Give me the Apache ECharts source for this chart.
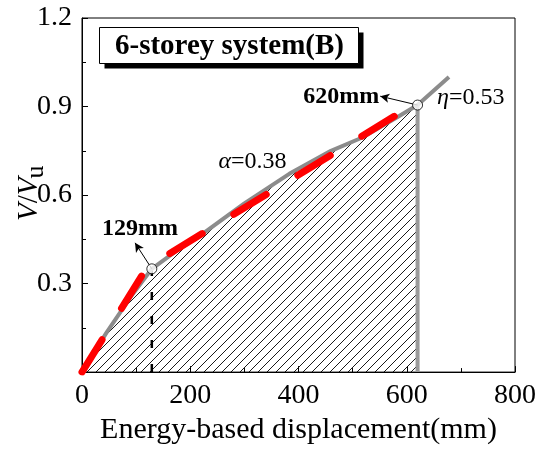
<!DOCTYPE html>
<html>
<head>
<meta charset="utf-8">
<script src="https://cdn.jsdelivr.net/npm/echarts@6/dist/echarts.min.js"></script>
<style>
  html, body { margin: 0; padding: 0; background: #ffffff; }
  #chart { width: 539px; height: 450px; }
</style>
</head>
<body>
<div id="chart"></div>
<script>
// Capacity curve of the 6-storey system (B): base shear ratio V/Vu against energy-based displacement (mm)
const displacement = [0, 45, 90, 129, 175, 217, 300, 383, 460, 518, 580, 620, 678];
const shearRatio   = [0, 0.133, 0.255, 0.35, 0.412, 0.461, 0.572, 0.672, 0.75, 0.795, 0.861, 0.905, 1.0];

// Idealised bilinear curve (red dashed)
const bilinearDisp  = [0, 120, 620];
const bilinearRatio = [0, 0.355, 0.915];

// Characteristic points: yield and ultimate displacement
const yieldPoint    = [129, 0.35];
const ultimatePoint = [620, 0.905];

// Axis ranges and tick steps
const xRange = [0, 800], xStep = 200;
const yRange = [0, 1.2], yStep = 0.3;

const SERIF = "'Liberation Serif','Times New Roman',serif";

function hatchPattern(size) {
  const c = document.createElement('canvas');
  c.width = size; c.height = size;
  const g = c.getContext('2d');
  g.strokeStyle = '#000';
  g.lineWidth = 0.9;
  g.beginPath();
  g.moveTo(0, size); g.lineTo(size, 0);
  g.moveTo(-size / 2, size / 2); g.lineTo(size / 2, -size / 2);
  g.moveTo(size / 2, size * 1.5); g.lineTo(size * 1.5, size / 2);
  g.stroke();
  return c;
}

function textWidth(str, font) {
  const g = document.createElement('canvas').getContext('2d');
  g.font = font;
  return g.measureText(str).width;
}

const curve = displacement.map((d, i) => [d, shearRatio[i]]);
const hatched = curve.filter(p => p[0] <= ultimatePoint[0]);
const bilinear = bilinearDisp.map((d, i) => [d, bilinearRatio[i]]);

const chart = echarts.init(document.getElementById('chart'), null, { renderer: 'canvas' });

const option = {
  animation: false,
  backgroundColor: '#ffffff',
  grid: {
    left: 82, right: 23, top: 18, bottom: 77,
    show: true, borderColor: '#000', borderWidth: 1, backgroundColor: 'transparent'
  },
  xAxis: {
    type: 'value', min: xRange[0], max: xRange[1], interval: xStep,
    name: 'Energy-based displacement(mm)',
    nameLocation: 'middle', nameGap: 37,
    nameTextStyle: { fontFamily: SERIF, fontSize: 30, color: '#000' },
    axisLine: { lineStyle: { color: '#000', width: 1 } },
    axisTick: { inside: true, length: 6, lineStyle: { color: '#000' } },
    minorTick: { show: true, splitNumber: 2, length: 4, lineStyle: { color: '#000' } },
    splitLine: { show: false },
    axisLabel: { fontFamily: SERIF, fontSize: 28, color: '#000', margin: 10 }
  },
  yAxis: {
    type: 'value', min: yRange[0], max: yRange[1], interval: yStep,
    axisLine: { show: true, lineStyle: { color: '#000', width: 1 } },
    axisTick: { show: true, inside: true, length: 6, lineStyle: { color: '#000' } },
    minorTick: { show: true, splitNumber: 2, length: 4, lineStyle: { color: '#000' } },
    splitLine: { show: false },
    axisLabel: {
      fontFamily: SERIF, fontSize: 28, color: '#000', margin: 10,
      formatter: v => (v === 0 ? '' : v.toFixed(1))
    }
  },
  series: [
    {
      name: 'hatch', type: 'line', data: hatched, symbol: 'none', silent: true,
      lineStyle: { width: 0, opacity: 0 },
      areaStyle: { color: { image: hatchPattern(9), repeat: 'repeat' }, opacity: 1 },
      z: 1
    },
    {
      name: 'ultimate', type: 'line', symbol: 'none', silent: true,
      data: [[ultimatePoint[0], 0], ultimatePoint],
      lineStyle: { color: '#9a9a9a', width: 4 }, z: 2
    },
    {
      name: 'yield', type: 'line', symbol: 'none', silent: true,
      data: [[yieldPoint[0], 0], yieldPoint],
      lineStyle: { color: '#000', width: 2.5, type: [8, 16] }, z: 2
    },
    {
      name: 'capacity', type: 'line', data: curve, symbol: 'none', silent: true,
      lineStyle: { color: '#8c8c8c', width: 4 }, z: 3
    },
    {
      name: 'bilinear', type: 'line', data: bilinear, symbol: 'none', silent: true,
      lineStyle: { color: '#ff0000', width: 7, type: [38, 37], cap: 'round' }, z: 4
    },
    {
      name: 'points', type: 'scatter', data: [yieldPoint, ultimatePoint],
      symbol: 'circle', symbolSize: 10, silent: true,
      itemStyle: { color: '#fff', borderColor: '#000', borderWidth: 1 }, z: 6,
      markLine: {
        silent: true, symbol: ['none', 'arrow'], symbolSize: [7, 9],
        label: { show: false },
        lineStyle: { color: '#000', width: 1, type: 'solid' },
        data: [
          [{ coord: ultimatePoint }, { coord: [551, 0.935] }],
          [{ coord: yieldPoint }, { coord: [98, 0.438] }]
        ]
      }
    }
  ]
};
chart.setOption(option);

// Annotation texts anchored in data space
const notes = [
  { at: [549, 0.934], text: '620mm', align: 'right', bold: true },
  { at: [107, 0.484], text: '129mm', align: 'center', bold: true },
  { at: [315, 0.714], text: '{g|α}{n|=0.38}', align: 'center', rich: true },
  { at: [656, 0.931], text: '{g|η}{n|=0.53}', align: 'left', rich: true }
];
const graphics = notes.map(n => {
  const p = chart.convertToPixel({ gridIndex: 0 }, n.at);
  return {
    type: 'text', x: p[0], y: p[1], silent: true, z: 100,
    style: {
      text: n.text, textAlign: n.align, textVerticalAlign: 'middle',
      font: (n.bold ? 'bold ' : '') + '24px ' + SERIF, fill: '#000',
      rich: n.rich ? {
        g: { fontFamily: SERIF, fontSize: 24, fontStyle: 'italic', fill: '#000' },
        n: { fontFamily: SERIF, fontSize: 24, fill: '#000' }
      } : undefined
    }
  };
});

// Title box with drop shadow
graphics.push({
  type: 'group', left: 99, top: 27, silent: true, z: 100,
  children: [
    { type: 'rect', shape: { x: 5, y: 5, width: 259, height: 36 }, style: { fill: '#000' } },
    { type: 'rect', shape: { x: 0, y: 0, width: 259, height: 36 }, style: { fill: '#fff', stroke: '#000', lineWidth: 1 } },
    { type: 'text', x: 130, y: 19, style: { text: '6-storey system(B)', textAlign: 'center', textVerticalAlign: 'middle', font: 'bold 29px ' + SERIF, fill: '#000' } }
  ]
});

// Y axis title V/Vu, reading bottom to top, with subscript u
const italicFont = 'italic 29px ' + SERIF;
const plainFont = '29px ' + SERIF;
const vW = textWidth('V', italicFont);
const slashW = textWidth('/', plainFont);
const bottomText = (str, font, x, y) => ({
  type: 'text', x: x, y: y,
  style: { text: str, font: font, fill: '#000', verticalAlign: 'bottom', align: 'left' }
});
graphics.push({
  type: 'group', x: 44, y: 221, rotation: Math.PI / 2, silent: true, z: 100,
  children: [
    bottomText('V', italicFont, 0, 0),
    bottomText('/', plainFont, vW, 0),
    bottomText('V', italicFont, vW + slashW, 0),
    bottomText('u', '26px ' + SERIF, 2 * vW + slashW - 1, 5)
  ]
});

chart.setOption({ graphic: graphics });
</script>
</body>
</html>
